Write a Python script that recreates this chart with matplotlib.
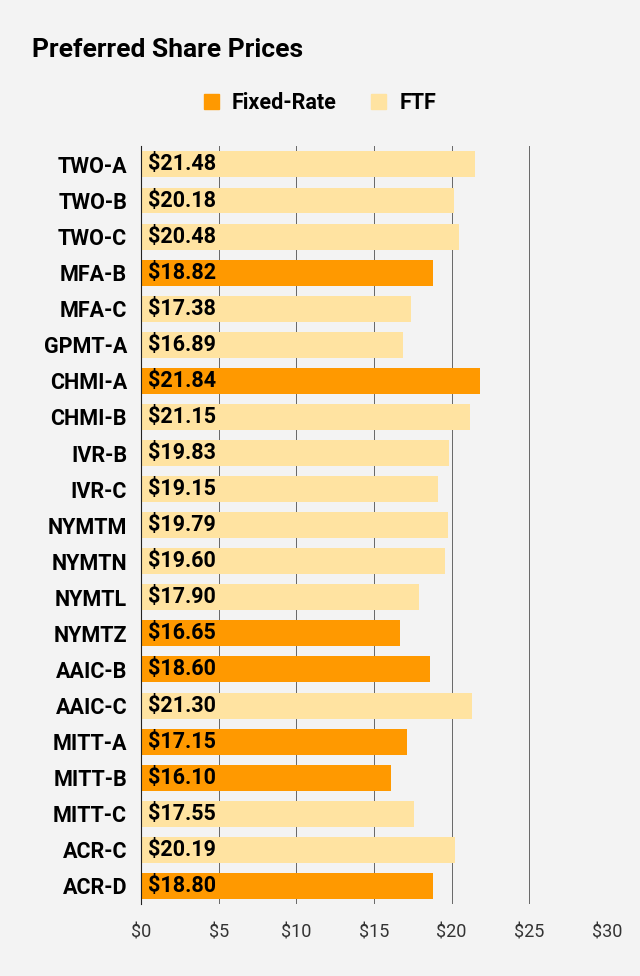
import matplotlib
matplotlib.use("Agg")
import matplotlib.pyplot as plt
from matplotlib.patches import Patch

names = ["TWO-A","TWO-B","TWO-C","MFA-B","MFA-C","GPMT-A","CHMI-A","CHMI-B","IVR-B","IVR-C",
         "NYMTM","NYMTN","NYMTL","NYMTZ","AAIC-B","AAIC-C","MITT-A","MITT-B","MITT-C","ACR-C","ACR-D"]
prices = [21.48,20.18,20.48,18.82,17.38,16.89,21.84,21.15,19.83,19.15,
          19.79,19.60,17.90,16.65,18.60,21.30,17.15,16.10,17.55,20.19,18.80]
kinds = ["F","F","F","X","F","F","X","F","F","F","F","F","F","X","X","F","X","X","F","F","X"]
ticks = [0,5,10,15,20,25,30]

C_FIX = "#FF9900"
C_FTF = "#FFE3A1"
BG = "#F3F3F3"
plt.rcParams["font.family"] = "Roboto"

fig = plt.figure(figsize=(6.4,9.76), dpi=100, facecolor=BG)
ax = fig.add_axes([0.2203,0.0738,0.7281,0.7762], facecolor=BG)
y = list(range(len(names)))
cols = [C_FIX if k=="X" else C_FTF for k in kinds]
ax.barh(y, prices, height=0.72, color=cols, zorder=3)
for yi, p in zip(y, prices):
    ax.text(0.45, yi, f"${p:.2f}", va="center", ha="left", fontsize=15.5, fontweight="bold", zorder=4)
ax.set_ylim(len(names)-0.5, -0.5)
ax.set_xlim(0,30)
ax.set_yticks(y)
ax.set_yticklabels(names, fontsize=15.5, fontweight="bold")
ax.set_xticks(ticks)
ax.set_xticklabels([f"${t}" for t in ticks], fontsize=13, color="#333333")
ax.tick_params(length=0, axis="y", pad=10)
ax.tick_params(length=0, axis="x", pad=14)
ax.grid(axis="x", color="#666666", linewidth=0.7, zorder=0)
for s in ["top","right","bottom"]:
    ax.spines[s].set_visible(False)
ax.spines["left"].set_color("#222222")
ax.spines["left"].set_zorder(5)
fig.text(0.05, 0.949, "Preferred Share Prices", fontsize=19, fontweight="bold", va="center")
handles = [Patch(color=C_FIX, label="Fixed-Rate"), Patch(color=C_FTF, label="FTF")]
fig.legend(handles=handles, loc="center", bbox_to_anchor=(0.50, 0.894), ncol=2, frameon=False,
           prop={"size":15.5, "weight":"bold"}, handlelength=0.7, handleheight=0.7, columnspacing=1.6, handletextpad=0.6)
fig.savefig("out.png", dpi=100, facecolor=BG)
